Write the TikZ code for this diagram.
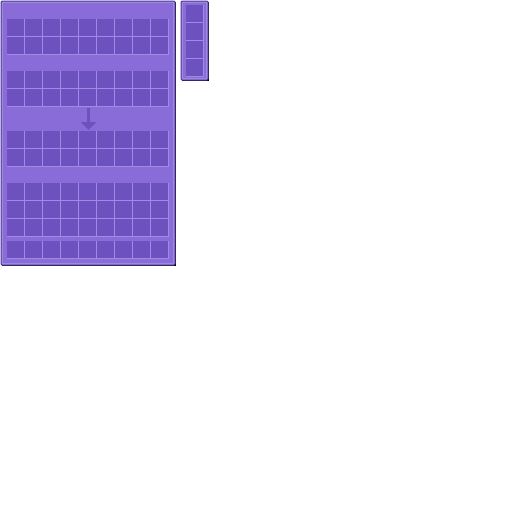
\documentclass[tikz,border=0pt]{standalone}
\usepackage{xcolor}
\usepackage{tikz}
\usetikzlibrary{arrows.meta}

\definecolor{guibg}{HTML}{8A6CD9}
\definecolor{guiedge}{HTML}{9D86E4}
\definecolor{guidark}{HTML}{4A3590}
\definecolor{slotbg}{HTML}{6D51BE}
\definecolor{slothi}{HTML}{A08AE6}

\tikzset{
  panel/.style={fill=guiedge, draw=guidark, line width=1pt, rounded corners=1pt},
  slot/.style={fill=slotbg, minimum size=17pt, inner sep=0pt, outer sep=0pt, anchor=north west},
  flowarrow/.style={draw=slotbg, line width=2.5pt, -{Triangle[width=15pt,length=8pt]}}
}

\begin{document}
\begin{tikzpicture}[x=1pt,y=-1pt]
  \useasboundingbox (0,0) rectangle (512,512);

  % main window
  \fill[black] (2,2) rectangle (176,266);
  \path[panel] (1,1) rectangle (175,265);
  \fill[guibg] (3,3) rectangle (173,263);

  % slot groups: top y, rows
  \foreach \g/\y/\n in {a/19/2, b/71/2, c/131/2, d/183/3, e/241/1} {
    \fill[slothi] (7,\y) rectangle (169,\y+18*\n);
    \foreach \r in {1,...,\n} {
      \foreach \c in {1,...,9} {
        \node[slot] (s-\g-\r-\c) at (7+18*\c-18, \y+18*\r-18) {};
      }
    }
  }

  % arrow between the two middle grids
  \coordinate (from) at (88.5,108);
  \coordinate (to) at (88.5,130);
  \draw[flowarrow] (from) -- (to);

  % side window
  \fill[black] (182,2) rectangle (209,81);
  \path[panel] (181,1) rectangle (208,80);
  \fill[guibg] (183,3) rectangle (206,78);
  \fill[slothi] (186,5) rectangle (204,77);
  \foreach \r in {1,...,4} {
    \node[slot] (side-\r) at (186, 5+18*\r-18) {};
  }
\end{tikzpicture}
\end{document}
